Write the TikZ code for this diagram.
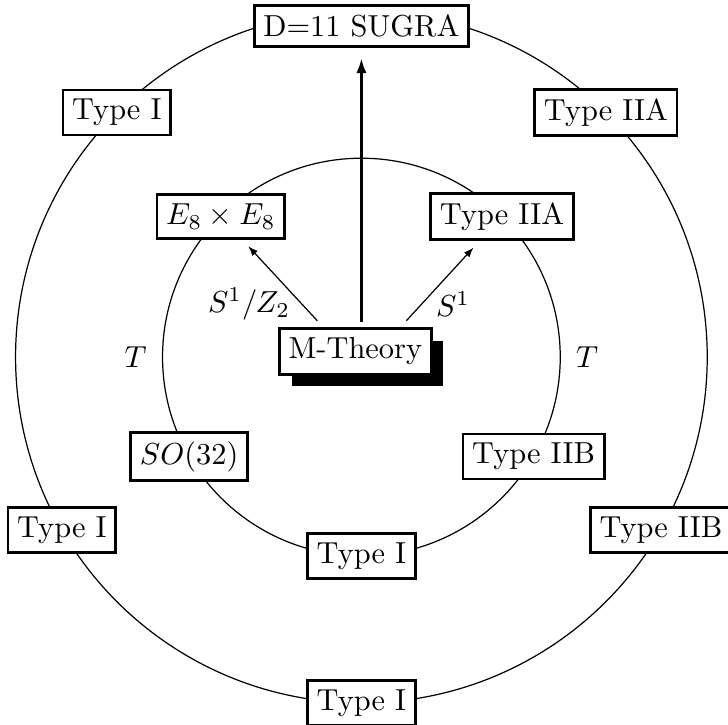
\documentclass[tikz,border=0pt]{standalone}
\usetikzlibrary{shadows,arrows.meta}
\begin{document}
\begin{tikzpicture}
\tikzset{
  theory/.style={draw, fill=white, line width=0.9pt, inner sep=3pt},
  ring/.style={line width=0.4pt},
  dual/.style={-{Latex[length=3.2pt,width=2.4pt]}, line width=0.4pt, shorten >=3pt},
  lift/.style={-{Latex[length=5pt,width=3.4pt]}, line width=1.2pt, shorten >=3.4pt},
  lbl/.style={inner sep=0pt},
}
\useasboundingbox (-4.18,-4.25) rectangle (4.24,4.13);
% rings
\draw[ring] (0,0) circle (4);
\draw[ring] (0,0) circle (2.3);
% outer ring nodes
\node[theory] (d11) at (0,3.83) {D=11 SUGRA};
\node[theory] (oI1) at (135:4) {Type I};
\node[theory] (oIIA) at (45:4) {Type IIA};
\node[theory] (oI2) at (210:4) {Type I};
\node[theory] (oIIB) at (330:4) {Type IIB};
\node[theory] (oI3) at (270:4) {Type I};
% inner ring nodes
\node[theory] (e8) at (135:2.3) {$E_8\times E_8$};
\node[theory] (iIIA) at (45:2.3) {Type IIA};
\node[theory] (so32) at (210:2.3) {$SO(32)$};
\node[theory] (iIIB) at (330:2.3) {Type IIB};
\node[theory] (iI) at (270:2.3) {Type I};
% M-theory
\node[theory, drop shadow={shadow xshift=4pt, shadow yshift=-4pt, opacity=1, fill=black}] (mth) at (-0.07,0.064) {M-Theory};
\coordinate (mtl) at (-0.51,0.42);
\coordinate (mtr) at (0.52,0.42);
\coordinate (mtop) at (0,0.41);
% arrows
\draw[dual] (mtl) -- (e8);
\draw[dual] (mtr) -- (iIIA);
\draw[lift] (mtop) -- (d11);
% labels
\node[lbl] (lz2) at (-1.30,0.61) {$S^1/Z_2$};
\node[lbl] (ls1) at (1.06,0.61) {$S^1$};
\node[lbl] (lt1) at (-2.61,0) {$T$};
\node[lbl] (lt2) at (2.61,0) {$T$};
\end{tikzpicture}
\end{document}
